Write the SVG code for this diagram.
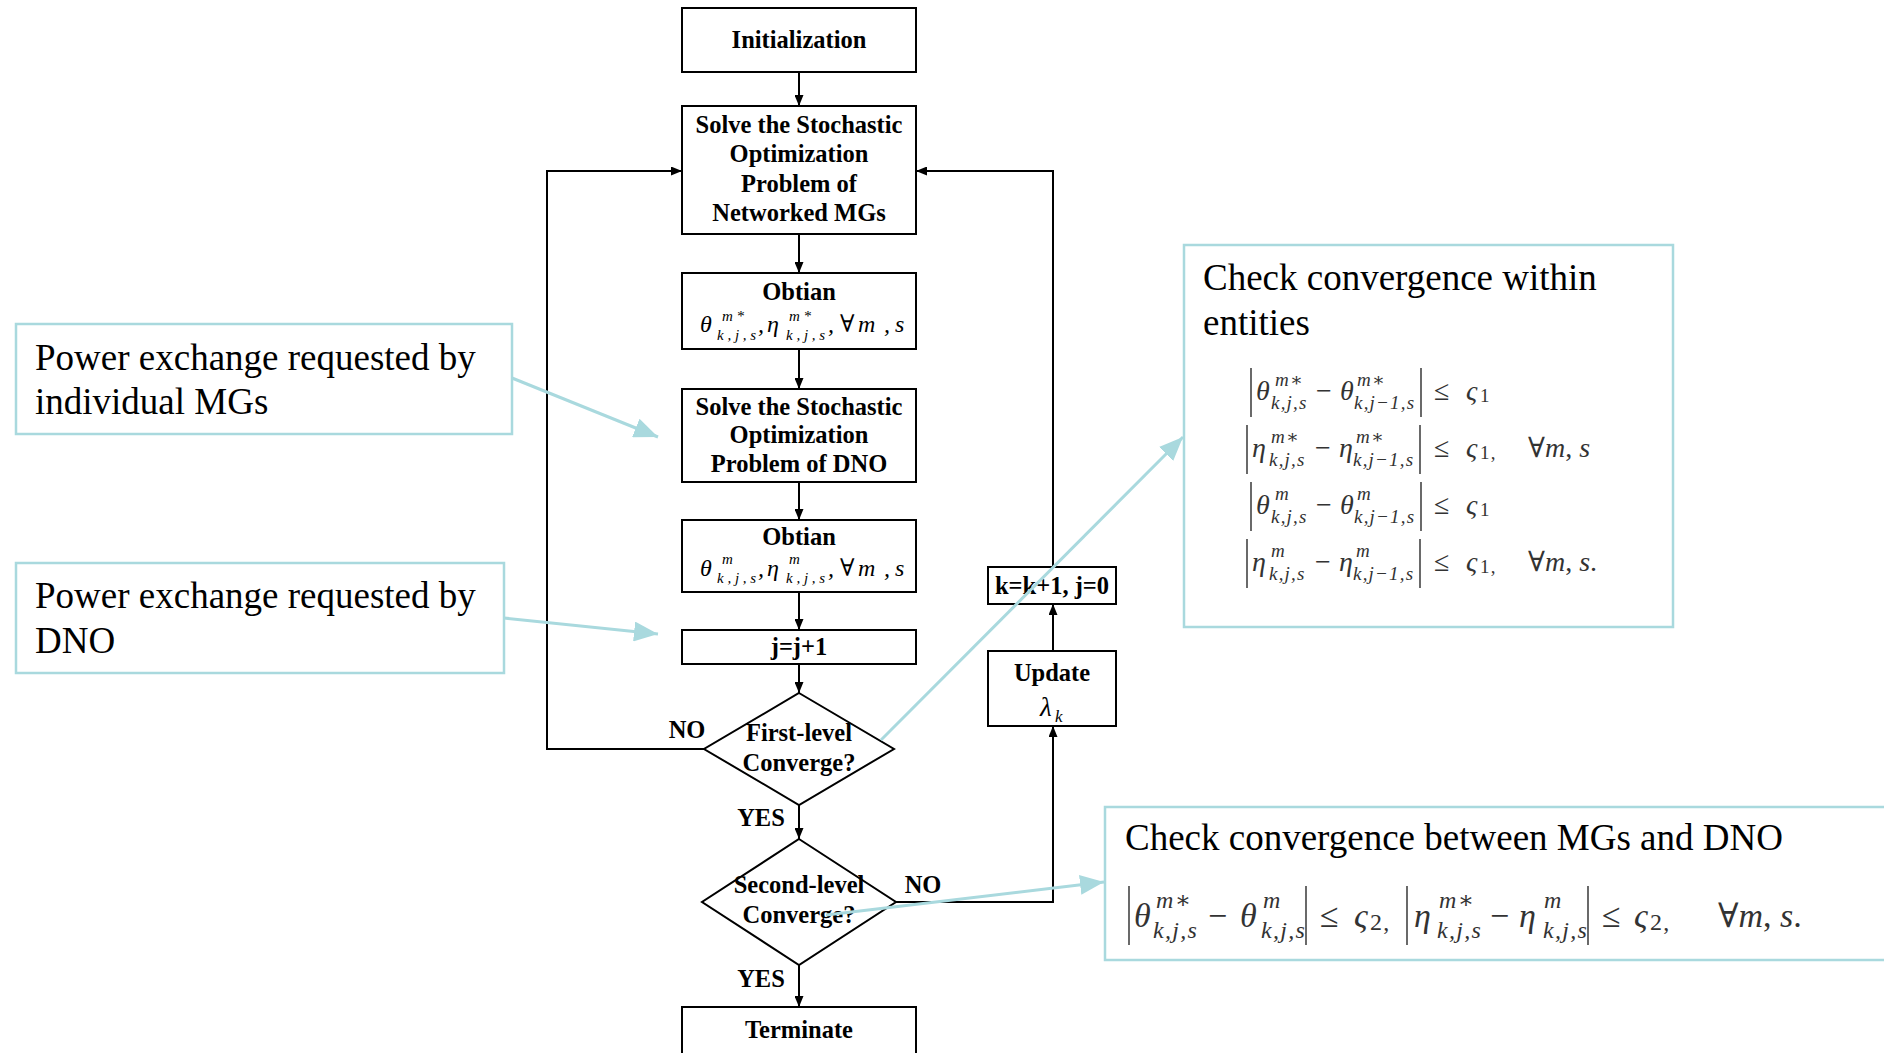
<svg xmlns="http://www.w3.org/2000/svg" width="1884" height="1053" viewBox="0 0 1884 1053">
  <defs>
    <marker id="arrow" markerUnits="userSpaceOnUse" markerWidth="11" markerHeight="9" refX="11" refY="4.5" orient="auto">
      <path d="M0,0 L11,4.5 L0,9 Z" fill="#000"/>
    </marker>
    <marker id="cyanArrow" markerUnits="userSpaceOnUse" markerWidth="24" markerHeight="20" refX="24" refY="10" orient="auto">
      <path d="M0,0 L24,10 L0,20 Z" fill="#A9D9DE"/>
    </marker>
    <style>
      .box { fill: #fff; stroke: #000; stroke-width: 2; }
      .flow { fill: none; stroke: #000; stroke-width: 2; }
      .note { fill: #fff; stroke: #A9D9DE; stroke-width: 2.5; }
      .link { fill: none; stroke: #A9D9DE; stroke-width: 3; }
      .b { font-family: "Liberation Serif", "Times New Roman", serif; font-weight: bold; font-size: 24.5px; text-anchor: middle; fill: #000; }
      .t { font-family: "Liberation Serif", "Times New Roman", serif; font-size: 37px; fill: #000; }
      .fi { font-family: "Liberation Serif", "DejaVu Serif", serif; font-style: italic; fill: #000; }
      .mi { font-family: "Liberation Serif", "DejaVu Serif", serif; font-style: italic; fill: #333; }
      .mo { font-family: "Liberation Serif", "DejaVu Serif", serif; fill: #333; }
      .bar { stroke: #444; stroke-width: 1.6; }
      .m1 { font-size: 28px; }
      .s1 { font-size: 19px; letter-spacing: 1.2px; }
      .m2 { font-size: 34px; }
      .s2 { font-size: 24px; letter-spacing: 1.3px; }
      .fm { font-size: 24px; }
      .fs { font-size: 15px; }
    </style>
  </defs>

  <!-- flowchart connectors -->
  <g id="connectors">
    <line class="flow" x1="799" y1="72" x2="799" y2="106" marker-end="url(#arrow)"/>
    <line class="flow" x1="799" y1="234" x2="799" y2="273" marker-end="url(#arrow)"/>
    <line class="flow" x1="799" y1="349" x2="799" y2="389" marker-end="url(#arrow)"/>
    <line class="flow" x1="799" y1="482" x2="799" y2="520" marker-end="url(#arrow)"/>
    <line class="flow" x1="799" y1="592" x2="799" y2="630" marker-end="url(#arrow)"/>
    <line class="flow" x1="799" y1="664" x2="799" y2="693" marker-end="url(#arrow)"/>
    <line class="flow" x1="799" y1="805" x2="799" y2="839" marker-end="url(#arrow)"/>
    <line class="flow" x1="799" y1="965" x2="799" y2="1007" marker-end="url(#arrow)"/>
    <polyline class="flow" points="704,749 547,749 547,171 682,171" marker-end="url(#arrow)"/>
    <polyline class="flow" points="896,902 1053,902 1053,726" marker-end="url(#arrow)"/>
    <line class="flow" x1="1053" y1="651" x2="1053" y2="604" marker-end="url(#arrow)"/>
    <polyline class="flow" points="1053,567 1053,171 916,171" marker-end="url(#arrow)"/>
    <text class="b" x="687" y="738">NO</text>
    <text class="b" x="761" y="826">YES</text>
    <text class="b" x="923" y="893">NO</text>
    <text class="b" x="761" y="987">YES</text>
  </g>

  <!-- flowchart nodes -->
  <g id="init">
    <rect class="box" x="682" y="8" width="234" height="64"/>
    <text class="b" x="799" y="48">Initialization</text>
  </g>
  <g id="solve-mgs">
    <rect class="box" x="682" y="106" width="234" height="128"/>
    <text class="b" x="799" y="133">Solve the Stochastic</text>
    <text class="b" x="799" y="162">Optimization</text>
    <text class="b" x="799" y="192">Problem of</text>
    <text class="b" x="799" y="221">Networked MGs</text>
  </g>
  <g id="obtain-mgs">
    <rect class="box" x="682" y="273" width="234" height="76"/>
    <text class="b" x="799" y="300">Obtian</text>
    <text class="fi fm" x="700" y="332">θ</text>
    <text class="fi fs" x="722" y="321">m *</text>
    <text class="fi fs" x="717" y="340">k , j , s</text>
    <text class="fi fm" x="758" y="332">,</text>
    <text class="fi fm" x="767" y="332">η</text>
    <text class="fi fs" x="789" y="321">m *</text>
    <text class="fi fs" x="786" y="340">k , j , s</text>
    <text class="fi fm" x="828" y="332">,</text>
    <text class="fi fm" x="840" y="332">∀</text>
    <text class="fi fm" x="858" y="332">m</text>
    <text class="fi fm" x="884" y="332">,</text>
    <text class="fi fm" x="895" y="332">s</text>
  </g>
  <g id="solve-dno">
    <rect class="box" x="682" y="389" width="234" height="93"/>
    <text class="b" x="799" y="415">Solve the Stochastic</text>
    <text class="b" x="799" y="443">Optimization</text>
    <text class="b" x="799" y="472">Problem of DNO</text>
  </g>
  <g id="obtain-dno">
    <rect class="box" x="682" y="520" width="234" height="72"/>
    <text class="b" x="799" y="545">Obtian</text>
    <text class="fi fm" x="700" y="576">θ</text>
    <text class="fi fs" x="722" y="564">m</text>
    <text class="fi fs" x="717" y="583">k , j , s</text>
    <text class="fi fm" x="758" y="576">,</text>
    <text class="fi fm" x="767" y="576">η</text>
    <text class="fi fs" x="789" y="564">m</text>
    <text class="fi fs" x="786" y="583">k , j , s</text>
    <text class="fi fm" x="828" y="576">,</text>
    <text class="fi fm" x="840" y="576">∀</text>
    <text class="fi fm" x="858" y="576">m</text>
    <text class="fi fm" x="884" y="576">,</text>
    <text class="fi fm" x="895" y="576">s</text>
  </g>
  <g id="increment-j">
    <rect class="box" x="682" y="630" width="234" height="34"/>
    <text class="b" x="799" y="655">j=j+1</text>
  </g>
  <g id="first-level">
    <polygon class="box" points="799,693 894,749 799,805 704,749"/>
    <text class="b" x="799" y="741">First-level</text>
    <text class="b" x="799" y="771">Converge?</text>
  </g>
  <g id="second-level">
    <polygon class="box" points="799,839 896,902 799,965 702,902"/>
    <text class="b" x="799" y="893">Second-level</text>
    <text class="b" x="799" y="923">Converge?</text>
  </g>
  <g id="terminate">
    <rect class="box" x="682" y="1007" width="234" height="62"/>
    <text class="b" x="799" y="1038">Terminate</text>
  </g>
  <g id="update">
    <rect class="box" x="988" y="651" width="128" height="75"/>
    <text class="b" x="1052" y="681">Update</text>
    <text class="fi" x="1040" y="716" font-size="27">λ</text>
    <text class="fi" x="1055" y="722" font-size="17">k</text>
  </g>
  <g id="increment-k">
    <rect class="box" x="988" y="567" width="128" height="37"/>
    <text class="b" x="1052" y="594">k=k+1, j=0</text>
  </g>

  <!-- annotation notes -->
  <g id="note-mgs">
    <rect class="note" x="16" y="324" width="496" height="110"/>
    <text class="t" x="35" y="370">Power exchange requested by</text>
    <text class="t" x="35" y="414">individual MGs</text>
  </g>
  <g id="note-dno">
    <rect class="note" x="16" y="563" width="488" height="110"/>
    <text class="t" x="35" y="608">Power exchange requested by</text>
    <text class="t" x="35" y="653">DNO</text>
  </g>
  <g id="note-within">
    <rect class="note" x="1184" y="245" width="489" height="382"/>
    <text class="t" x="1203" y="290">Check convergence within</text>
    <text class="t" x="1203" y="335">entities</text>
    <!-- row 1 -->
    <line class="bar" x1="1251" y1="368" x2="1251" y2="417"/>
    <text class="mi m1" x="1256" y="400">θ</text>
    <text class="mi s1" x="1275" y="386">m∗</text>
    <text class="mi s1" x="1271" y="409">k,j,s</text>
    <text class="mo m1" x="1316" y="400">−</text>
    <text class="mi m1" x="1340" y="400">θ</text>
    <text class="mi s1" x="1357" y="386">m∗</text>
    <text class="mi s1" x="1354" y="409">k,j−1,s</text>
    <line class="bar" x1="1421" y1="368" x2="1421" y2="417"/>
    <text class="mo m1" x="1434" y="400">≤</text>
    <text class="mi m1" x="1466" y="400">ς</text>
    <text class="mo s1" x="1480" y="402">1</text>
    <!-- row 2 -->
    <line class="bar" x1="1247" y1="425" x2="1247" y2="474"/>
    <text class="mi m1" x="1252" y="457">η</text>
    <text class="mi s1" x="1271" y="443">m∗</text>
    <text class="mi s1" x="1269" y="466">k,j,s</text>
    <text class="mo m1" x="1315" y="457">−</text>
    <text class="mi m1" x="1339" y="457">η</text>
    <text class="mi s1" x="1356" y="443">m∗</text>
    <text class="mi s1" x="1353" y="466">k,j−1,s</text>
    <line class="bar" x1="1420" y1="425" x2="1420" y2="474"/>
    <text class="mo m1" x="1434" y="457">≤</text>
    <text class="mi m1" x="1466" y="457">ς</text>
    <text class="mo s1" x="1480" y="459">1,</text>
    <text class="mo m1" x="1528" y="457">∀<tspan class="mi">m</tspan>, <tspan class="mi">s</tspan></text>
    <!-- row 3 -->
    <line class="bar" x1="1251" y1="482" x2="1251" y2="531"/>
    <text class="mi m1" x="1256" y="514">θ</text>
    <text class="mi s1" x="1275" y="500">m</text>
    <text class="mi s1" x="1271" y="523">k,j,s</text>
    <text class="mo m1" x="1316" y="514">−</text>
    <text class="mi m1" x="1340" y="514">θ</text>
    <text class="mi s1" x="1357" y="500">m</text>
    <text class="mi s1" x="1354" y="523">k,j−1,s</text>
    <line class="bar" x1="1421" y1="482" x2="1421" y2="531"/>
    <text class="mo m1" x="1434" y="514">≤</text>
    <text class="mi m1" x="1466" y="514">ς</text>
    <text class="mo s1" x="1480" y="516">1</text>
    <!-- row 4 -->
    <line class="bar" x1="1247" y1="539" x2="1247" y2="588"/>
    <text class="mi m1" x="1252" y="571">η</text>
    <text class="mi s1" x="1271" y="557">m</text>
    <text class="mi s1" x="1269" y="580">k,j,s</text>
    <text class="mo m1" x="1315" y="571">−</text>
    <text class="mi m1" x="1339" y="571">η</text>
    <text class="mi s1" x="1356" y="557">m</text>
    <text class="mi s1" x="1353" y="580">k,j−1,s</text>
    <line class="bar" x1="1420" y1="539" x2="1420" y2="588"/>
    <text class="mo m1" x="1434" y="571">≤</text>
    <text class="mi m1" x="1466" y="571">ς</text>
    <text class="mo s1" x="1480" y="573">1,</text>
    <text class="mo m1" x="1528" y="571">∀<tspan class="mi">m</tspan>, <tspan class="mi">s</tspan>.</text>
  </g>
  <g id="note-between">
    <rect class="note" x="1105" y="807" width="790" height="153"/>
    <text class="t" x="1125" y="850">Check convergence between MGs and DNO</text>
    <line class="bar" x1="1129" y1="886" x2="1129" y2="945"/>
    <text class="mi m2" x="1134" y="927">θ</text>
    <text class="mi s2" x="1156" y="908">m∗</text>
    <text class="mi s2" x="1153" y="938">k,j,s</text>
    <text class="mo m2" x="1208" y="927">−</text>
    <text class="mi m2" x="1240" y="927">θ</text>
    <text class="mi s2" x="1263" y="908">m</text>
    <text class="mi s2" x="1261" y="938">k,j,s</text>
    <line class="bar" x1="1306" y1="886" x2="1306" y2="945"/>
    <text class="mo m2" x="1320" y="927">≤</text>
    <text class="mi m2" x="1354" y="927">ς</text>
    <text class="mo s2" x="1370" y="930">2,</text>
    <line class="bar" x1="1407" y1="886" x2="1407" y2="945"/>
    <text class="mi m2" x="1414" y="927">η</text>
    <text class="mi s2" x="1439" y="908">m∗</text>
    <text class="mi s2" x="1437" y="938">k,j,s</text>
    <text class="mo m2" x="1490" y="927">−</text>
    <text class="mi m2" x="1519" y="927">η</text>
    <text class="mi s2" x="1544" y="908">m</text>
    <text class="mi s2" x="1543" y="938">k,j,s</text>
    <line class="bar" x1="1588" y1="886" x2="1588" y2="945"/>
    <text class="mo m2" x="1602" y="927">≤</text>
    <text class="mi m2" x="1634" y="927">ς</text>
    <text class="mo s2" x="1650" y="930">2,</text>
    <text class="mo m2" x="1718" y="927">∀<tspan class="mi">m</tspan>, <tspan class="mi">s</tspan>.</text>
  </g>

  <!-- annotation pointers -->
  <g id="note-links">
    <line class="link" x1="512" y1="378" x2="658" y2="437" marker-end="url(#cyanArrow)"/>
    <line class="link" x1="504" y1="618" x2="658" y2="634" marker-end="url(#cyanArrow)"/>
    <line class="link" x1="881" y1="740" x2="1183" y2="437" marker-end="url(#cyanArrow)"/>
    <line class="link" x1="826" y1="915" x2="1104" y2="882" marker-end="url(#cyanArrow)"/>
  </g>
</svg>
